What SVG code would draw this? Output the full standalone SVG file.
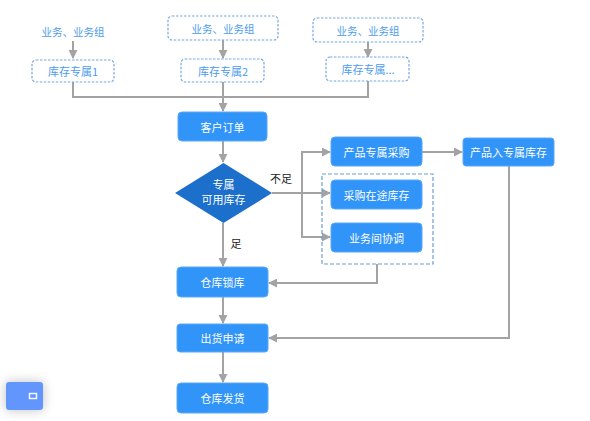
<svg xmlns="http://www.w3.org/2000/svg" width="590" height="421" viewBox="0 0 590 421">
<defs>
<marker id="ah" viewBox="0 0 10 10" refX="9" refY="5" markerWidth="4.5" markerHeight="4.5" orient="auto" markerUnits="strokeWidth">
<path d="M0,0 L10,5 L0,10 z" fill="#a3a3a3"/>
</marker>
<filter id="sh" x="-100%" y="-100%" width="300%" height="300%">
<feGaussianBlur in="SourceAlpha" stdDeviation="6"/>
<feComponentTransfer><feFuncA type="linear" slope="0.25"/></feComponentTransfer>
<feMerge><feMergeNode/><feMergeNode in="SourceGraphic"/></feMerge>
</filter>
<style>
.t{font-family:"Noto Sans CJK SC","Noto Sans",sans-serif;font-size:11px;text-anchor:middle;dominant-baseline:central}
.w{fill:#ffffff}
.b{fill:#4b9bf0}
.k{fill:#222222}
.box{fill:#3194f8;stroke:#5aa8f8;stroke-width:1}
.dbox{fill:#ffffff;stroke:#77a7e0;stroke-width:1.2;stroke-dasharray:2.5,1.5}
.grp{fill:none;stroke:#6d9fd8;stroke-width:1.2;stroke-dasharray:4,2}
.ln{fill:none;stroke:#a3a3a3;stroke-width:2}
</style>
</defs>
<rect width="590" height="421" fill="#ffffff"/>

<g id="connectors">
<path class="ln" d="M73,41 V58" marker-end="url(#ah)"/>
<path class="ln" d="M223,40 V58" marker-end="url(#ah)"/>
<path class="ln" d="M368,42 V57" marker-end="url(#ah)"/>
<path class="ln" d="M73,82 V97 H368 V81"/>
<path class="ln" d="M223,82 V111" marker-end="url(#ah)"/>
<path class="ln" d="M223,141 V162" marker-end="url(#ah)"/>
<path class="ln" d="M272,193 H330" marker-end="url(#ah)"/>
<path class="ln" d="M330,152 H302 V237 H330" marker-end="url(#ah)"/>
<path class="ln" d="M302,152 H330" marker-end="url(#ah)"/>
<path class="ln" d="M422,152 H462" marker-end="url(#ah)"/>
<path class="ln" d="M223,223 V266" marker-end="url(#ah)"/>
<path class="ln" d="M377,264 V283 H269" marker-end="url(#ah)"/>
<path class="ln" d="M223,297 V323" marker-end="url(#ah)"/>
<path class="ln" d="M509,166 V338 H269" marker-end="url(#ah)"/>
<path class="ln" d="M223,352 V382" marker-end="url(#ah)"/>
<text class="t k" x="281" y="178">不足</text>
<text class="t k" x="236" y="243">足</text>
</g>

<g id="src1"><text class="t b" x="73" y="31" style="font-size:10.5px">业务、业务组</text></g>
<g id="src2"><rect class="dbox" x="168" y="16" width="110" height="24" rx="4"/><text class="t b" x="223" y="28" style="font-size:10.5px">业务、业务组</text></g>
<g id="src3"><rect class="dbox" x="313" y="18" width="110" height="24" rx="4"/><text class="t b" x="368" y="30" style="font-size:10.5px">业务、业务组</text></g>
<g id="stock1"><rect class="dbox" x="32" y="60" width="82" height="22" rx="4"/><text class="t b" x="73" y="71">库存专属1</text></g>
<g id="stock2"><rect class="dbox" x="181" y="59" width="83" height="23" rx="4"/><text class="t b" x="223" y="71">库存专属2</text></g>
<g id="stock3"><rect class="dbox" x="326" y="57" width="83" height="24" rx="4"/><text class="t b" x="368" y="69">库存专属...</text></g>

<g id="order"><rect class="box" x="178" y="112" width="89" height="29" rx="4"/><text class="t w" x="222.5" y="126.5">客户订单</text></g>
<g id="decision"><path d="M223.5,163 L272,193 L223.5,223 L175,193 Z" fill="#1c6fcb"/><text class="t w" x="223.5" y="184">专属</text><text class="t w" x="223.5" y="199">可用库存</text></g>
<g id="purchase"><rect class="box" x="331" y="137" width="91" height="29" rx="4"/><text class="t w" x="376.5" y="151.5">产品专属采购</text></g>
<g id="group"><rect class="grp" x="322" y="174" width="111" height="90"/></g>
<g id="transit"><rect class="box" x="331" y="180" width="91" height="29" rx="4"/><text class="t w" x="376.5" y="194.5">采购在途库存</text></g>
<g id="coord"><rect class="box" x="331" y="223" width="91" height="29" rx="4"/><text class="t w" x="376.5" y="237.5">业务间协调</text></g>
<g id="instock"><rect class="box" x="463" y="138" width="91" height="28" rx="3"/><text class="t w" x="508.5" y="152">产品入专属库存</text></g>
<g id="lock"><rect class="box" x="177" y="267" width="91" height="30" rx="4"/><text class="t w" x="222.5" y="282">仓库锁库</text></g>
<g id="ship"><rect class="box" x="177" y="324" width="91" height="28" rx="3"/><text class="t w" x="222.5" y="338">出货申请</text></g>
<g id="deliver"><rect class="box" x="177" y="383" width="91" height="30" rx="4"/><text class="t w" x="222.5" y="398">仓库发货</text></g>

<g id="button">
<rect x="6" y="382" width="37" height="28" rx="3" fill="#6496fd" filter="url(#sh)"/>
<rect x="29.5" y="393.5" width="7" height="5" fill="none" stroke="#ffffff" stroke-width="1.4"/>
</g>
</svg>
